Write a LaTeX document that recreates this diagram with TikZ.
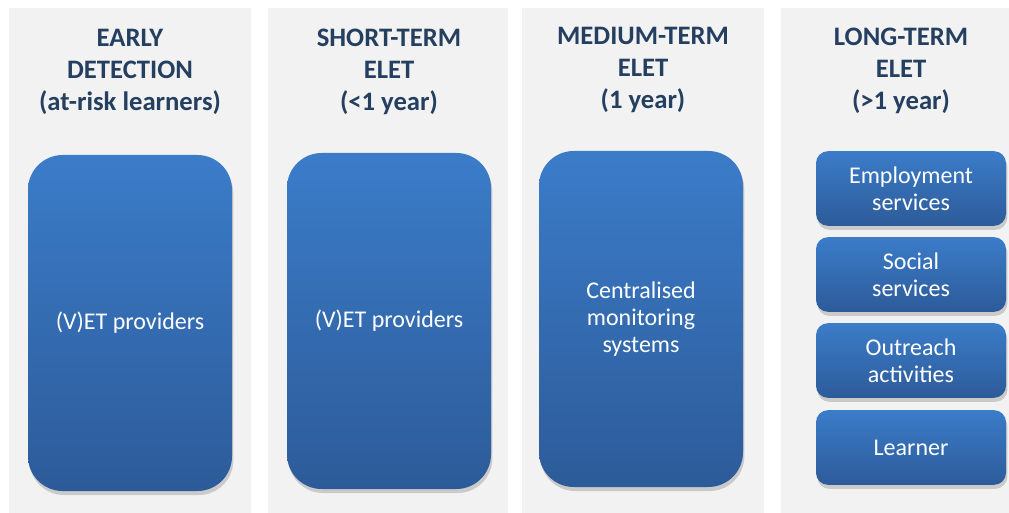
\documentclass[tikz,border=0pt]{standalone}
\usepackage{fontspec}
\setmainfont{Carlito}
\usetikzlibrary{shadows}
\definecolor{panelgray}{HTML}{F2F2F2}
\definecolor{headblue}{HTML}{243F60}
\definecolor{boxtop}{HTML}{3B7CC9}
\definecolor{boxbottom}{HTML}{2D5B99}
\tikzset{
  panel/.style={fill=panelgray, draw=none, drop shadow={shadow xshift=0pt, shadow yshift=0pt, opacity=0.25, fill=black!60}},
  header/.style={text=headblue, font=\fontsize{20}{24}\selectfont\bfseries, align=center, anchor=north},
  bigbox/.style={rounded corners=26pt, top color=boxtop, bottom color=boxbottom, draw=none, text=white,
    font=\fontsize{18}{20.25}\selectfont, align=center, drop shadow={shadow xshift=1pt, shadow yshift=-3pt, opacity=0.35}},
  smallbox/.style={bigbox, rounded corners=9pt}
}
\begin{document}
\begin{tikzpicture}[x=0.75pt, y=-0.75pt]
  \useasboundingbox (0,0) rectangle (1009,513);
  \fill[white] (0,0) rectangle (1009,513);       % background
  % grey columns
  \path[panel] (9,8) rectangle (251,520);
  \path[panel] (268,8) rectangle (508,520);
  \path[panel] (522,8) rectangle (764,520);
  \path[panel] (781,8) rectangle (1020,520);
  % column titles
  \node [header] (early) at (130,24) {EARLY\\DETECTION\\(at-risk learners)};
  \node [header] (short) at (389,24) {SHORT-TERM\\ELET\\(<1 year)};
  \node [header] (medium) at (643,23) {MEDIUM-TERM\\ELET\\(1 year)};
  \node [header] (long) at (901,23) {LONG-TERM\\ELET\\(>1 year)};
  % actors
  \node [bigbox, minimum width=153pt, minimum height=252pt] (vetearly) at (130,323) {(V)ET providers};
  \node [bigbox, minimum width=153pt, minimum height=252pt] (vetshort) at (389,321) {(V)ET providers};
  \node [bigbox, minimum width=153pt, minimum height=252pt] (monitor) at (641,319) {Centralised\\monitoring\\systems};
  \node [smallbox, minimum width=142.5pt, minimum height=56pt] (employ) at (911,188.5) {Employment\\services};
  \node [smallbox, minimum width=142.5pt, minimum height=56pt] (social) at (911,274.5) {Social\\services};
  \node [smallbox, minimum width=142.5pt, minimum height=56pt] (outreach) at (911,360.5) {Outreach\\activities};
  \node [smallbox, minimum width=142.5pt, minimum height=56pt] (learner) at (911,447.5) {Learner};
\end{tikzpicture}
\end{document}
